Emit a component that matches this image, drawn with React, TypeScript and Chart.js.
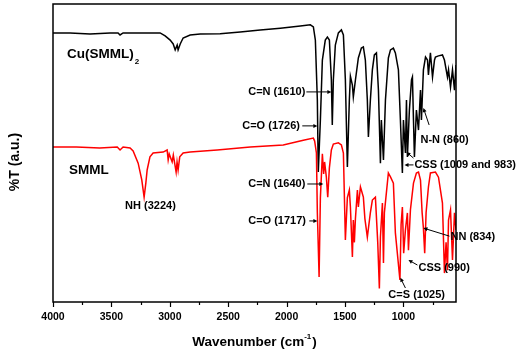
import React, { useEffect, useRef } from 'react';
import { Chart, registerables } from 'chart.js';

Chart.register(...registerables);

// ---- data (wavenumber in cm-1, transmittance in arbitrary units) ----
const blackName = 'Cu(SMML)';
const blackSub = '2';
const blackWn = [4000, 3854, 3683, 3511, 3443, 3426, 3400, 3254, 3083, 3040, 2997, 2971, 2954, 2937, 2929, 2911, 2886, 2826, 2740, 2569, 2397, 2226, 2054, 1883, 1797, 1771, 1754, 1737, 1729, 1711, 1694, 1669, 1651, 1634, 1617, 1609, 1600, 1583, 1557, 1531, 1514, 1497, 1480, 1463, 1454, 1437, 1429, 1411, 1386, 1360, 1343, 1326, 1309, 1300, 1283, 1266, 1249, 1231, 1214, 1197, 1189, 1171, 1154, 1129, 1111, 1086, 1069, 1043, 1026, 1009, 1000, 983, 974, 966, 949, 931, 923, 914, 906, 889, 871, 854, 846, 829, 811, 794, 786, 769, 751, 734, 726, 700, 666, 649, 623, 614, 597, 580, 563, 550];
const blackT = [90.3, 90.3, 89.9, 90.3, 90.3, 89.6, 90.3, 90.3, 90.3, 89.3, 87.9, 86.6, 84.6, 86.2, 84.6, 86.6, 88.6, 89.6, 89.9, 90.0, 90.6, 91.3, 91.9, 92.6, 93.0, 92.3, 87.9, 67.8, 43.6, 61.1, 81.2, 87.9, 88.9, 87.9, 74.5, 59.4, 74.5, 86.2, 90.3, 91.3, 89.6, 74.5, 45.3, 67.8, 75.8, 72.8, 68.8, 74.5, 81.9, 85.2, 85.6, 81.2, 67.8, 55.4, 67.8, 77.9, 82.9, 83.6, 71.1, 46.6, 61.1, 47.7, 67.8, 81.9, 84.6, 85.2, 83.6, 77.9, 61.1, 43.3, 61.1, 50.0, 67.8, 48.7, 64.4, 74.5, 75.5, 61.1, 48.7, 64.4, 57.7, 71.1, 61.1, 77.9, 82.2, 81.2, 76.2, 83.6, 75.5, 81.2, 82.2, 82.6, 82.9, 81.2, 75.5, 77.9, 72.1, 77.9, 71.1, 79.5];

const redName = 'SMML';
const redWn = [4000, 3800, 3600, 3450, 3426, 3400, 3340, 3314, 3271, 3240, 3220, 3205, 3194, 3170, 3143, 3057, 3023, 3014, 3005, 2980, 2970, 2946, 2938, 2929, 2915, 2886, 2826, 2594, 2311, 2029, 1857, 1771, 1760, 1745, 1737, 1722, 1711, 1694, 1683, 1675, 1660, 1648, 1634, 1617, 1600, 1557, 1531, 1514, 1497, 1480, 1463, 1454, 1437, 1429, 1420, 1411, 1394, 1386, 1368, 1343, 1330, 1309, 1283, 1266, 1240, 1220, 1206, 1197, 1180, 1171, 1163, 1129, 1111, 1086, 1069, 1030, 1020, 1009, 998, 983, 966, 957, 940, 914, 889, 871, 854, 840, 829, 818, 806, 786, 769, 726, 700, 666, 649, 635, 623, 614, 597, 580, 563, 550];
const redT = [52.0, 52.0, 51.7, 52.0, 51.0, 52.0, 51.7, 50.7, 46.6, 41.0, 35.2, 40.0, 44.3, 48.7, 50.0, 50.3, 51.0, 47.7, 49.7, 47.0, 49.3, 43.6, 47.0, 44.3, 48.7, 50.0, 50.3, 51.0, 52.0, 52.7, 54.3, 55.0, 54.0, 50.0, 30.0, 8.4, 35.0, 49.7, 43.0, 47.0, 42.0, 35.2, 45.0, 51.0, 53.0, 53.4, 52.7, 50.0, 20.8, 35.0, 37.6, 31.9, 15.1, 27.5, 20.0, 28.0, 37.6, 31.9, 38.6, 35.2, 28.0, 21.8, 30.0, 34.2, 35.2, 20.0, 4.5, 21.8, 33.2, 13.1, 30.0, 43.3, 42.0, 39.9, 23.2, 7.4, 26.0, 31.9, 16.4, 24.2, 29.9, 17.4, 31.0, 39.9, 43.3, 43.6, 40.9, 30.0, 24.8, 16.4, 30.0, 38.6, 43.3, 43.6, 41.9, 33.2, 9.7, 20.0, 10.7, 27.5, 30.9, 14.1, 29.9, 24.2];

const xMin = 550;
const xMax = 4000;
const yMin = 0;
const yMax = 100;
const tickValues = [4000, 3750, 3500, 3250, 3000, 2750, 2500, 2250, 2000, 1750, 1500, 1250, 1000, 750];
const majorStep = 500;

const xTitle = 'Wavenumber (cm';
const xTitleSup = '-1';
const yTitle = '%T (a.u.)';

// series name labels (anchor in data coords)
const nameWn = [3880, 3863];
const nameT = [83.2, 44.3];

// peak annotations
const annoText = ['NH (3224)', 'C=N (1610)', 'C=O (1726)', 'N-N (860)', 'CSS (1009 and 983)', 'C=N (1640)', 'C=O (1717)', 'NN (834)', 'CSS (990)', 'C=S (1025)'];
const annoWn = [3383, 2329, 2380, 854, 906, 2329, 2329, 597, 871, 1129];
const annoT = [32.2, 70.5, 59.1, 54.4, 46.0, 39.6, 27.2, 21.8, 11.4, 2.3];

// arrows: from -> to (arrow head at "to")
const arrowFromWn = [1831, 1866, 780, 914, 914, 1823, 1806, 606, 880, 983];
const arrowFromT = [70.5, 59.1, 59.4, 46.0, 48.3, 39.6, 27.2, 22.1, 12.4, 4.7];
const arrowToWn = [1617, 1737, 829, 991, 974, 1686, 1737, 829, 957, 1026];
const arrowToT = [70.5, 59.1, 65.1, 46.0, 50.3, 39.6, 27.2, 24.8, 14.1, 8.1];

const FONT = "'Liberation Sans', Arial, Helvetica, sans-serif";

export default function App() {
  const ref = useRef<HTMLCanvasElement>(null);

  useEffect(() => {
    const canvas = ref.current;
    if (!canvas) return;

    const decor = {
      id: 'irDecor',
      afterDatasetsDraw(chart: any) {
        const { ctx, chartArea: a, scales } = chart;
        const xs = scales.x;
        const ys = scales.y;
        ctx.save();
        // frame
        ctx.strokeStyle = '#000';
        ctx.lineWidth = 1.5;
        ctx.strokeRect(a.left, a.top, a.right - a.left, a.bottom - a.top);
        // ticks
        ctx.lineWidth = 1.2;
        tickValues.forEach((v) => {
          const px = Math.round(xs.getPixelForValue(v)) + 0.5;
          const len = v % majorStep === 0 ? 5 : 3;
          ctx.beginPath();
          ctx.moveTo(px, a.bottom);
          ctx.lineTo(px, a.bottom + len);
          ctx.stroke();
        });

        ctx.fillStyle = '#000';
        ctx.textBaseline = 'middle';
        ctx.textAlign = 'left';

        // series names
        ctx.font = `bold 13.5px ${FONT}`;
        const bx = xs.getPixelForValue(nameWn[0]);
        const by = ys.getPixelForValue(nameT[0]);
        ctx.fillText(blackName, bx, by);
        const bw = ctx.measureText(blackName).width;
        ctx.font = `bold 8px ${FONT}`;
        ctx.fillText(blackSub, bx + bw + 1, by + 8);
        ctx.font = `bold 13.5px ${FONT}`;
        ctx.fillText(redName, xs.getPixelForValue(nameWn[1]), ys.getPixelForValue(nameT[1]));

        // annotations
        ctx.font = `bold 11px ${FONT}`;
        annoText.forEach((t, i) => {
          ctx.fillText(t, xs.getPixelForValue(annoWn[i]), ys.getPixelForValue(annoT[i]));
        });

        // arrows
        ctx.lineWidth = 1;
        arrowFromWn.forEach((_, i) => {
          const x1 = xs.getPixelForValue(arrowFromWn[i]);
          const y1 = ys.getPixelForValue(arrowFromT[i]);
          const x2 = xs.getPixelForValue(arrowToWn[i]);
          const y2 = ys.getPixelForValue(arrowToT[i]);
          const ang = Math.atan2(y2 - y1, x2 - x1);
          const hl = 4;
          const hw = 2;
          ctx.beginPath();
          ctx.moveTo(x1, y1);
          ctx.lineTo(x2 - Math.cos(ang) * hl * 0.8, y2 - Math.sin(ang) * hl * 0.8);
          ctx.stroke();
          ctx.beginPath();
          ctx.moveTo(x2, y2);
          ctx.lineTo(x2 - Math.cos(ang) * hl - Math.sin(ang) * hw, y2 - Math.sin(ang) * hl + Math.cos(ang) * hw);
          ctx.lineTo(x2 - Math.cos(ang) * hl + Math.sin(ang) * hw, y2 - Math.sin(ang) * hl - Math.cos(ang) * hw);
          ctx.closePath();
          ctx.fill();
        });

        // axis titles
        ctx.font = `bold 13.5px ${FONT}`;
        const mainW = ctx.measureText(xTitle).width;
        ctx.font = `bold 8px ${FONT}`;
        const supW = ctx.measureText(xTitleSup).width;
        ctx.font = `bold 13.5px ${FONT}`;
        const closeW = ctx.measureText(')').width;
        const total = mainW + supW + closeW + 1;
        const cx = (a.left + a.right) / 2;
        const ty = a.bottom + 40;
        let sx = cx - total / 2;
        ctx.fillText(xTitle, sx, ty);
        sx += mainW;
        ctx.font = `bold 8px ${FONT}`;
        ctx.fillText(xTitleSup, sx, ty - 5);
        sx += supW + 1;
        ctx.font = `bold 13.5px ${FONT}`;
        ctx.fillText(')', sx, ty);

        ctx.save();
        ctx.translate(a.left - 38, (a.top + a.bottom) / 2 + 9);
        ctx.rotate(-Math.PI / 2);
        ctx.textAlign = 'center';
        ctx.font = `bold 14px ${FONT}`;
        ctx.fillText(yTitle, 0, 0);
        ctx.restore();

        ctx.restore();
      },
    };

    const chart = new Chart(canvas, {
      type: 'line',
      data: {
        datasets: [
          {
            label: redName,
            data: redWn.map((w, i) => ({ x: w, y: redT[i] })),
            borderColor: '#ff0000',
            borderWidth: 1.5,
            pointRadius: 0,
            tension: 0,
            fill: false,
          },
          {
            label: blackName + blackSub,
            data: blackWn.map((w, i) => ({ x: w, y: blackT[i] })),
            borderColor: '#000000',
            borderWidth: 1.5,
            pointRadius: 0,
            tension: 0,
            fill: false,
          },
        ],
      },
      options: {
        animation: false,
        responsive: false,
        maintainAspectRatio: false,
        layout: { padding: { left: 53, right: 61, top: 4, bottom: 0 } },
        plugins: {
          legend: { display: false },
          tooltip: { enabled: false },
          title: { display: false },
        },
        scales: {
          x: {
            type: 'linear',
            reverse: true,
            min: xMin,
            max: xMax,
            afterBuildTicks: (s: any) => {
              s.ticks = tickValues.map((v) => ({ value: v }));
            },
            afterFit: (s: any) => {
              s.height = 49;
            },
            border: { display: false },
            grid: {
              display: true,
              drawOnChartArea: false,
              drawTicks: true,
              tickLength: 5,
              color: 'rgba(0,0,0,0)',
            },
            ticks: {
              autoSkip: false,
              maxRotation: 0,
              padding: 4,
              color: '#000',
              font: { family: FONT, size: 10.5, weight: 'bold' },
              callback: (v: any) => (Number(v) % majorStep === 0 ? String(v) : ''),
            },
          },
          y: {
            display: false,
            min: yMin,
            max: yMax,
          },
        },
      },
      plugins: [decor],
    });

    return () => chart.destroy();
  }, []);

  return (
    <div style={{ position: 'absolute', left: 0, top: 0, width: 517, height: 351, background: '#fff' }}>
      <canvas ref={ref} width={517} height={351} style={{ display: 'block', width: 517, height: 351 }} />
    </div>
  );
}
